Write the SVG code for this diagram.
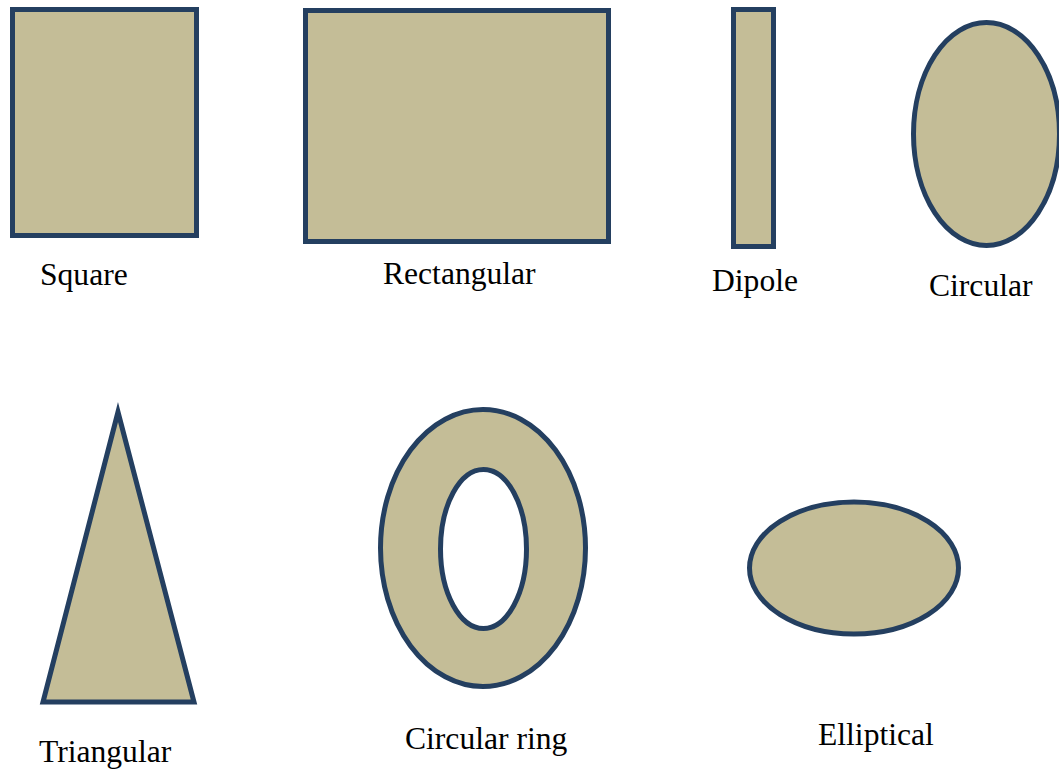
<svg xmlns="http://www.w3.org/2000/svg" width="1059" height="769" viewBox="0 0 1059 769">
<style>
.s{fill:#C4BD97;stroke:#243F60;stroke-width:5}
.h{fill:#FFFFFF;stroke:#243F60;stroke-width:5}
.t{font-family:"Liberation Serif","Times New Roman",serif;font-size:31.6px;fill:#000}
</style>
<rect width="1059" height="769" fill="#FFFFFF"/>
<g id="square"><rect class="s" x="12.5" y="9.5" width="184" height="226"/><text class="t" x="40" y="285">Square</text></g>
<g id="rectangular"><rect class="s" x="305.5" y="10.5" width="303" height="231"/><text class="t" x="383" y="284">Rectangular</text></g>
<g id="dipole"><rect class="s" x="733.5" y="9.5" width="40" height="237"/><text class="t" x="712" y="291">Dipole</text></g>
<g id="circular"><ellipse class="s" cx="986.5" cy="134" rx="73" ry="111.5"/><text class="t" x="929" y="296">Circular</text></g>
<g id="triangular"><polygon class="s" points="118,412 43,702 194,702" stroke-linejoin="miter"/><text class="t" x="39" y="762">Triangular</text></g>
<g id="circular-ring"><ellipse class="s" cx="483" cy="548" rx="102.5" ry="138.5"/><ellipse class="h" cx="483.5" cy="549" rx="43" ry="79.5"/><text class="t" x="405" y="749">Circular ring</text></g>
<g id="elliptical"><ellipse class="s" cx="854" cy="568" rx="104.5" ry="66"/><text class="t" x="818" y="745">Elliptical</text></g>
<g id="connectors"/>
</svg>
